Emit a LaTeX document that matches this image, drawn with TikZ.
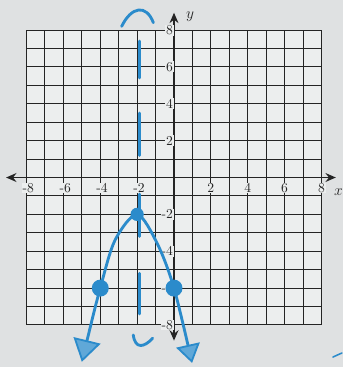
\documentclass[tikz,border=0pt]{standalone}
\usetikzlibrary{arrows.meta}
\definecolor{paper}{HTML}{DFE1E2}
\definecolor{sheet}{HTML}{ECEEEE}
\definecolor{ink}{HTML}{242424}
\definecolor{penblue}{HTML}{2B8BCB}
\tikzset{
  gridline/.style={draw=ink,line width=0.8pt},
  axisline/.style={{Stealth[length=2.8mm,width=2.4mm]}-{Stealth[length=2.8mm,width=2.4mm]},draw=ink,line width=1.3pt},
  ticklabel/.style={font=\fontsize{10.5}{12}\selectfont,text=ink,inner sep=0.6pt,fill=sheet},
  axislabel/.style={font=\large,text=ink,inner sep=0pt},
  penline/.style={draw=penblue,line width=2.2pt,line cap=round,line join=round},
  dot/.style={fill=penblue},
}
\begin{document}
\begin{tikzpicture}[x=0.5cm,y=0.5cm]
  \useasboundingbox (-9.44,-10.28) rectangle (9.16,9.63);
  \fill[paper] (-9.44,-10.28) rectangle (9.16,9.63);
  \fill[sheet] (-8,-8) rectangle (8,8);
  \foreach \i in {-8,...,8} {
    \draw[gridline] (\i,-8) -- (\i,8);
    \draw[gridline] (-8,\i) -- (8,\i);
  }
  % axes
  \coordinate (xw) at (-9.11,0);
  \coordinate (xe) at (8.78,0);
  \coordinate (yn) at (0,8.94);
  \coordinate (ys) at (0,-8.85);
  \draw[axisline] (xw) -- (xe);
  \draw[axisline] (ys) -- (yn);
  \foreach \v in {2,4,6,8} {
    \node[ticklabel] (xp\v) at (\v,-0.57) {\v};
    \node[ticklabel] (xm\v) at (-\v+0.1,-0.57) {-\v};
    \node[ticklabel,anchor=east] (yp\v) at (0,\v) {\v};
    \node[ticklabel,anchor=east] (ym\v) at (0,-\v) {-\v};
  }
  \node[axislabel] (xlab) at (8.92,-0.79) {$x$};
  \node[axislabel] (ylab) at (0.87,8.72) {$y$};
  % axis of symmetry, hand drawn
  \foreach \a/\b in {7.4/5.4,3.5/1.2,-0.9/-3.2,-5.2/-7.4}
    \draw[penline] (-1.88,\a) -- (-1.88,\b);
  \draw[penline] (-2.84,8.2) .. controls (-2.3,9.3) and (-1.5,9.4) .. (-1.12,8.4);
  \draw[penline] (-2.21,-8.54) .. controls (-2.1,-9.35) and (-1.6,-9.2) .. (-1.16,-8.72);
  % parabola
  \coordinate (vtx) at (-2,-2);
  \coordinate (lpt) at (-4,-6);
  \coordinate (rpt) at (0,-6);
  \coordinate (lend) at (-5,-10);
  \coordinate (rend) at (0.98,-10.06);
  \draw[penline,
    {Triangle[length=6mm,width=7.5mm,fill=penblue!75,line width=1.4pt]}-{Triangle[length=5mm,width=6.5mm,fill=penblue!75,line width=1.4pt]}]
    plot[smooth,tension=0.5] coordinates {(lend) (lpt) (-3.2,-3.4) (vtx) (-0.9,-3.6) (rpt) (rend)};
  \fill[dot] (lpt) circle[radius=0.23cm];
  \fill[dot] (rpt) circle[radius=0.23cm];
  \fill[dot] (vtx) circle[radius=0.18cm];
  \draw[penline,line width=1.2pt] (8.62,-9.74) -- (9.11,-9.52);
\end{tikzpicture}
\end{document}
